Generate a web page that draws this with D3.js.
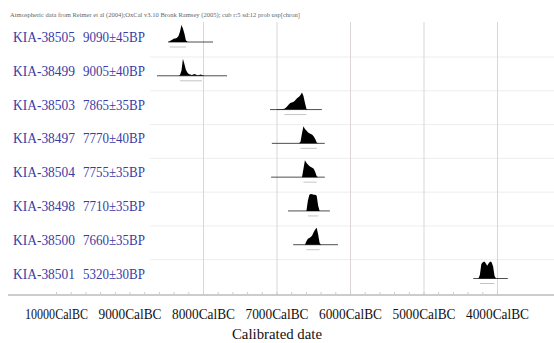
<!DOCTYPE html>
<html><head><meta charset="utf-8">
<script src="https://cdn.jsdelivr.net/npm/d3@7"></script>
<style>body{margin:0;background:#fff}svg{display:block}svg text{font-family:'Liberation Serif','Times New Roman',serif}</style>
</head><body>
<svg id="c" width="554" height="343"></svg>
<script>
const headerText = "Atmospheric data from Reimer et al (2004);OxCal v3.10 Bronk Ramsey (2005); cub r:5 sd:12 prob usp[chron]";
const sampleIds = ["KIA-38505","KIA-38499","KIA-38503","KIA-38497","KIA-38504","KIA-38498","KIA-38500","KIA-38501"];
const bpDates = ["9090±45BP","9005±40BP","7865±35BP","7770±40BP","7755±35BP","7710±35BP","7660±35BP","5320±30BP"];
const distStartBC = [8480, 8340, 7000, 6700, 6660, 6600, 6620, 4260];
const distStep = 20;
const densities = [
  [0,0.05,0.1,0.15,0.2,0.2,0.25,0.35,0.6,1.0,0.8,0.5,0.1,0.02,0],
  [0,0.05,0.3,1.0,0.7,0.35,0.2,0.1,0.08,0.05,0.08,0.1,0.06,0.03,0.05,0.08,0.05,0.02,0],
  [0.02,0.03,0.02,0.04,0.03,0.05,0.1,0.2,0.3,0.38,0.42,0.45,0.5,0.6,0.7,0.75,0.85,1.0,0.8,0.4,0.05,0],
  [0,0.1,0.6,1.0,0.85,0.75,0.65,0.6,0.55,0.5,0.4,0.25,0.05,0],
  [0,0.5,1.0,0.85,0.75,0.65,0.6,0.55,0.5,0.3,0.05,0],
  [0,0.6,0.95,1.0,0.98,0.95,0.95,0.9,0.3,0],
  [0,0.2,0.35,0.4,0.45,0.55,0.75,0.9,1.0,0.6,0.1,0],
  [0,0.2,0.85,0.95,1.0,0.9,0.75,0.9,1.0,0.95,0.7,0.15,0]
];
const lineStartBC = [8483, 8633, 7095, 7070, 7080, 6850, 6780, 4330];
const lineEndBC   = [7870, 7680, 6390, 6350, 6350, 6280, 6170, 3860];
const tickYears = [10000, 9000, 8000, 7000, 6000, 5000, 4000];
const tickLabels = ["10000CalBC","9000CalBC","8000CalBC","7000CalBC","6000CalBC","5000CalBC","4000CalBC"];
const gridYears = [8000, 7000, 6000, 5000, 4000];
const axisTitle = "Calibrated date";

const svg = d3.select("#c");
const x = d3.scaleLinear().domain([10000, 4000]).range([56.5, 497.5]);
const y = d3.scalePoint().domain(sampleIds).range([42, 278.5]);
const h = d3.scaleLinear().domain([0, 1]).range([0, 17]);
const axisY = 295;

// header
svg.append("text").attr("x", 10).attr("y", 17)
  .attr("font-size", 6).attr("fill", "#666").attr("textLength", 290).attr("lengthAdjust", "spacingAndGlyphs")
  .text(headerText);

// faint row separators
svg.append("g").selectAll("line").data(sampleIds.slice(0, -1)).join("line")
  .attr("x1", 150).attr("x2", 554)
  .attr("y1", d => y(d) + 15).attr("y2", d => y(d) + 15)
  .attr("stroke", "#ededed").attr("stroke-width", 1);

// gridlines
svg.append("g").selectAll("line").data(gridYears).join("line")
  .attr("x1", d => x(d)).attr("x2", d => x(d))
  .attr("y1", 22).attr("y2", axisY)
  .attr("stroke", "#dcd5d5").attr("stroke-width", 1);

// axis
const minor = d3.range(10000, 3800, -200);
svg.append("line").attr("x1", 8).attr("x2", 554).attr("y1", axisY).attr("y2", axisY)
  .attr("stroke", "#9a9a9a").attr("stroke-width", 1);
svg.append("g").selectAll("line").data(minor).join("line")
  .attr("x1", d => x(d)).attr("x2", d => x(d))
  .attr("y1", axisY).attr("y2", axisY - 3)
  .attr("stroke", "#cccccc").attr("stroke-width", 1);

svg.append("g").selectAll("text").data(tickYears).join("text")
  .attr("x", d => x(d)).attr("y", 319).attr("text-anchor", "middle")
  .attr("font-size", 15).attr("fill", "#111")
  .attr("textLength", 63).attr("lengthAdjust", "spacingAndGlyphs")
  .text((d, i) => tickLabels[i]);

svg.append("text").attr("x", 277).attr("y", 339).attr("text-anchor", "middle")
  .attr("font-size", 15).attr("fill", "#111")
  .attr("textLength", 90).attr("lengthAdjust", "spacingAndGlyphs")
  .text(axisTitle);

// row labels
const lab = svg.append("g");
lab.selectAll("text.id").data(sampleIds).join("text").attr("class", "id")
  .attr("x", 13).attr("y", d => y(d))
  .attr("font-size", 15).attr("fill", "#3b3ba6")
  .attr("textLength", 62).attr("lengthAdjust", "spacingAndGlyphs").text(d => d);
lab.selectAll("text.bp").data(bpDates).join("text").attr("class", "bp")
  .attr("x", 83).attr("y", (d, i) => y(sampleIds[i]))
  .attr("font-size", 15).attr("fill", "#3b3ba6")
  .attr("textLength", 62).attr("lengthAdjust", "spacingAndGlyphs").text(d => d);

// distributions
const area = d3.area().x(d => x(d.year)).y0(0).y1(d => -h(d.p)).curve(d3.curveLinear);
sampleIds.forEach((id, i) => {
  const pts = densities[i].map((p, k) => ({ year: distStartBC[i] - k * distStep, p }));
  const g = svg.append("g").attr("transform", `translate(0,${y(id)})`);
  g.append("line").attr("x1", x(lineStartBC[i])).attr("x2", x(lineEndBC[i]))
    .attr("y1", 0).attr("y2", 0).attr("stroke", "#222").attr("stroke-width", 0.8);
  const nz = pts.filter(d => d.p > 0.04);
  g.append("line").attr("x1", x(nz[0].year)).attr("x2", x(nz[nz.length - 1].year))
    .attr("y1", 5).attr("y2", 5).attr("stroke", "#c4c4c4").attr("stroke-width", 1);
  g.append("path").datum(pts).attr("d", area).attr("fill", "#000");
});
</script>
</body></html>
